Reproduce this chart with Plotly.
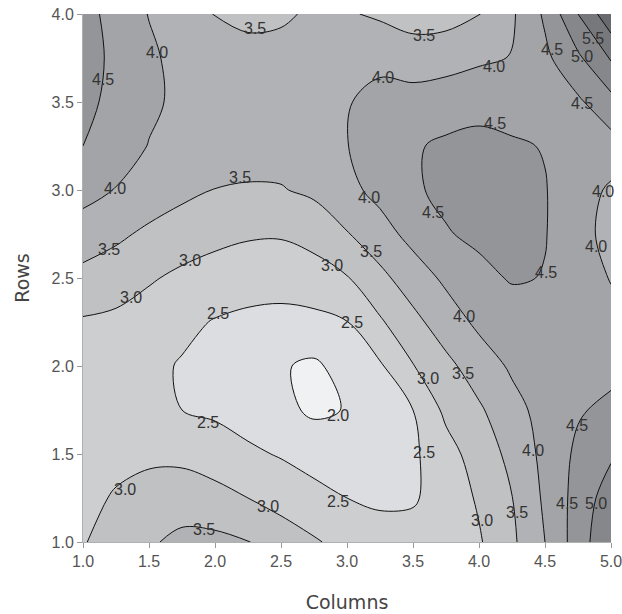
import plotly.graph_objects as go

# grid positions (Columns, Rows)
cols = [1.0, 1.25, 1.5, 1.75, 2.0, 2.25, 2.5, 2.75, 3.0, 3.25, 3.5, 3.75, 4.0, 4.25, 4.5, 4.75, 5.0]
rows = [1.0, 1.25, 1.5, 1.75, 2.0, 2.25, 2.5, 2.75, 3.0, 3.25, 3.5, 3.75, 4.0]

# values, one list per row (bottom to top)
r100 = [2.97, 3.20, 3.45, 3.60, 3.62, 3.52, 3.25, 3.05, 2.85, 2.70, 2.68, 2.78, 2.95, 3.41, 4.00, 4.74, 5.46]
r125 = [2.85, 3.05, 3.25, 3.30, 3.17, 3.00, 2.83, 2.66, 2.50, 2.42, 2.45, 2.71, 3.06, 3.49, 4.08, 4.69, 5.26]
r150 = [2.78, 2.85, 2.87, 2.86, 2.74, 2.59, 2.46, 2.30, 2.26, 2.30, 2.42, 2.81, 3.23, 3.63, 4.14, 4.60, 4.93]
r175 = [2.76, 2.72, 2.65, 2.50, 2.42, 2.28, 2.12, 1.92, 2.02, 2.26, 2.50, 3.11, 3.43, 3.84, 4.17, 4.45, 4.62]
r200 = [2.82, 2.75, 2.62, 2.46, 2.32, 2.18, 2.04, 1.92, 2.19, 2.44, 2.98, 3.37, 3.75, 4.07, 4.18, 4.28, 4.35]
r225 = [2.95, 2.90, 2.78, 2.62, 2.47, 2.38, 2.34, 2.37, 2.49, 2.94, 3.36, 3.76, 4.10, 4.20, 4.25, 4.20, 4.12]
r250 = [3.35, 3.22, 3.05, 2.90, 2.80, 2.74, 2.72, 2.80, 2.97, 3.37, 3.76, 4.09, 4.34, 4.55, 4.48, 4.20, 3.98]
r275 = [3.78, 3.60, 3.40, 3.25, 3.13, 3.05, 3.04, 3.16, 3.47, 3.81, 4.15, 4.46, 4.62, 4.65, 4.52, 4.20, 3.82]
r300 = [4.16, 3.98, 3.80, 3.62, 3.49, 3.46, 3.47, 3.60, 3.87, 4.14, 4.43, 4.62, 4.70, 4.68, 4.52, 4.24, 3.92]
r325 = [4.50, 4.27, 3.98, 3.82, 3.72, 3.68, 3.70, 3.78, 3.99, 4.20, 4.47, 4.55, 4.60, 4.55, 4.48, 4.30, 4.30]
r350 = [4.64, 4.35, 4.10, 3.88, 3.78, 3.72, 3.75, 3.85, 3.98, 4.10, 4.22, 4.35, 4.38, 4.33, 4.30, 4.42, 4.84]
r375 = [4.70, 4.39, 4.10, 3.82, 3.70, 3.68, 3.68, 3.70, 3.75, 3.92, 3.72, 3.74, 3.91, 4.02, 4.39, 4.91, 5.55]
r400 = [4.65, 4.35, 3.98, 3.73, 3.48, 3.37, 3.42, 3.58, 3.55, 3.42, 3.32, 3.35, 3.48, 3.93, 4.58, 5.50, 6.35]

values = [r100, r125, r150, r175, r200, r225, r250, r275, r300, r325, r350, r375, r400]

tick_vals = [1.0, 1.5, 2.0, 2.5, 3.0, 3.5, 4.0, 4.5, 5.0]

# contour-level labels: level and where the reference prints it
label_levels = [3.5, 4.0, 4.5, 3.5, 4.0, 4.5, 5.0, 5.5, 4.0, 4.5, 4.5,
                3.5, 4.0, 4.0, 4.5, 4.0, 3.5, 4.0, 3.0, 3.5, 3.0, 4.5,
                3.0, 2.5, 2.5, 4.0, 3.0, 3.5, 2.0, 2.5, 4.5, 2.5, 4.0,
                3.0, 3.0, 2.5, 3.5, 3.0, 4.5, 5.0, 3.5]
label_cols = [2.30, 1.56, 1.15, 3.58, 4.11, 4.55, 4.78, 4.86, 3.27, 4.78, 4.12,
              2.19, 1.24, 3.17, 3.65, 4.94, 1.20, 4.89, 1.81, 3.18, 2.89, 4.51,
              1.36, 2.02, 3.04, 3.89, 3.61, 3.88, 2.93, 1.95, 4.74, 3.58, 4.41,
              1.32, 2.40, 2.93, 4.29, 4.02, 4.67, 4.89, 1.92]
label_rows = [3.92, 3.78, 3.63, 3.88, 3.70, 3.80, 3.76, 3.86, 3.64, 3.49, 3.38,
              3.07, 3.01, 2.96, 2.87, 2.99, 2.66, 2.68, 2.60, 2.65, 2.57, 2.53,
              2.39, 2.30, 2.25, 2.28, 1.93, 1.96, 1.72, 1.68, 1.66, 1.51, 1.52,
              1.30, 1.20, 1.23, 1.17, 1.12, 1.22, 1.22, 1.07]

# band colours, light (low) to dark (high)
band_colors = ["#f0f1f3", "#dcdde0", "#cdcecf", "#c0c1c3", "#b1b2b5",
               "#a3a4a7", "#949598", "#86878a", "#77787b", "#696a6d"]
n = len(band_colors)
colorscale = [[i / (n - 1), c] for i, c in enumerate(band_colors)]

fig = go.Figure(go.Contour(
    x=cols, y=rows, z=values,
    autocontour=False,
    contours=dict(start=2.0, end=6.0, size=0.5, coloring="fill", showlabels=False),
    colorscale=colorscale,
    line=dict(color="#111111", width=1, smoothing=1.0),
    showscale=False,
    hoverinfo="skip",
))

for lv, cx, ry in zip(label_levels, label_cols, label_rows):
    fig.add_annotation(x=cx, y=ry, xref="x", yref="y", text=f"{lv:.1f}",
                       showarrow=False,
                       font=dict(size=16, color="#333333", family="Liberation Sans"))

axis_common = dict(
    ticks="outside", ticklen=5, tickcolor="#999999", tickwidth=1,
    showline=True, linecolor="#b0b0b0", linewidth=1,
    showgrid=False, zeroline=False, mirror=False, automargin=False,
    ticklabeloverflow="allow",
    tickfont=dict(size=16, color="#555555", family="Liberation Sans"),
    tickformat=".1f", tickvals=tick_vals,
)

fig.update_layout(
    width=622, height=614,
    margin=dict(l=83, r=11, t=14, b=72),
    paper_bgcolor="white", plot_bgcolor="white",
    xaxis=dict(range=[1, 5], title=dict(text="Columns", standoff=26,
               font=dict(size=19, color="#444444", family="DejaVu Sans")),
               **axis_common),
    yaxis=dict(range=[1, 4], title=dict(text="Rows", standoff=16,
               font=dict(size=19, color="#444444", family="DejaVu Sans")),
               **axis_common),
)

# remove the default page margin so the figure fills the window exactly
fig.write_html("out.html",
               config={"displayModeBar": False},
               post_script="document.body.style.margin='0';"
                           "document.body.style.overflow='hidden';")
